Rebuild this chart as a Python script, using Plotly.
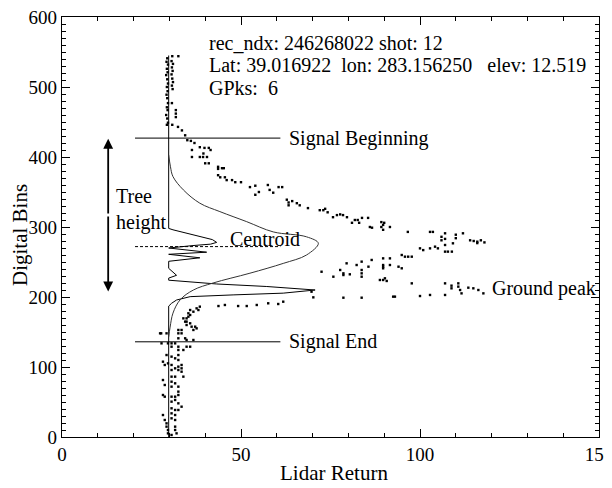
import plotly.graph_objects as go

# ---------------- data ----------------
# raw waveform samples (Lidar Return, Digital Bin)
dot_x = [
    # upper column
    29.4, 29.2, 29.6, 29.3, 29.5, 29.1, 29.4, 29.6, 29.3, 29.5, 29.2, 29.4, 29.6, 29.3, 29.5, 29.1, 29.4, 29.6, 29.3,
    30.8, 30.6, 31.0, 30.7, 30.9, 30.6, 30.8, 31.0, 30.7, 30.9, 30.7, 30.8,
    32.5, 31.8, 31.8, 31.8, 32.4, 33.5, 34.4, 35.0, 36.0, 37.0, 38.5, 39.8, 41.0, 36.3, 36.3, 38.5, 39.4,
    # upper diagonal branch
    41.5, 39.5, 40.5, 40.0, 41.0, 43.6, 43.6, 44.7, 45.2, 43.6, 44.2, 45.5, 46.0, 47.5, 48.4, 50.0,
    52.5, 54.0, 54.0, 55.0, 57.5, 58.0, 59.0, 60.5, 61.5, 62.8, 63.3, 64.3, 63.3, 65.6, 66.4, 68.7,
    72.0, 73.0, 73.5, 74.2, 75.7, 76.8, 77.7, 78.5, 79.6, 81.8, 82.6, 83.8, 85.5, 86.0, 89.2, 89.2,
    90.0, 91.6, 81.0, 83.0, 86.6, 89.7, 89.7, 96.6, 102.8, 103.6, 106.0, 107.0, 107.0, 106.0, 110.0,
    110.0, 112.0, 114.0, 115.0, 116.0, 117.0, 118.0, 116.0,
    # lower rising branch
    100.0, 100.9, 102.8, 104.2, 105.0, 107.0, 107.0, 107.8, 108.9, 109.2,
    94.9, 95.8, 96.7, 97.7, 89.7, 91.6, 89.7, 91.6, 89.7, 94.0, 94.9, 89.7,
    86.5, 85.6, 83.7, 83.7, 83.7, 83.7, 82.3, 79.5, 77.7, 78.6, 78.6, 80.4, 75.8, 72.5,
    # ground return row
    88.8, 89.7, 90.7, 90.2, 97.7, 78.6, 83.7, 92.5, 100.0, 102.8, 107.0,
    107.0, 108.8, 108.8, 110.7, 110.7, 111.2, 111.6, 113.5, 114.9, 116.3, 117.7,
    69.7, 70.2, 93.0,
    43.7, 45.5, 49.2, 51.6, 54.4, 57.6, 60.4, 61.8,
    # lower tail cluster
    38.5, 37.6, 38.1, 36.7, 35.8, 35.3, 35.3, 35.8, 34.8, 33.9, 34.4, 34.8, 35.8, 34.8, 36.2, 37.2,
    36.7, 37.6, 32.5, 32.5, 33.4, 33.4, 32.5, 34.4, 34.8, 36.7, 27.4, 27.7, 29.2,
    # lower column
    27.8, 29.6, 30.6, 31.6, 30.6, 32.5, 32.5, 33.9, 34.8, 35.8, 29.2, 30.6, 31.6, 32.5, 32.5,
    28.2, 28.7, 29.6, 30.6, 30.6, 31.6, 32.5, 33.4, 33.4, 32.5, 33.4, 30.6, 31.6, 33.9,
    28.2, 28.7, 30.6, 31.6, 30.6, 32.5, 32.5, 28.2, 28.7, 30.6, 31.6, 32.5, 30.6, 31.6, 32.5, 33.4,
    30.6, 31.6, 32.5, 30.6, 31.6, 28.2, 28.7, 29.2, 30.6, 31.6, 29.2, 29.6, 31.6, 31.6, 29.6, 30.6, 32.0,
]
dot_y = [
    541, 536, 532, 526, 521, 517, 511, 505, 500, 494, 489, 484, 477, 471, 467, 460, 455, 449, 446,
    544, 537, 533, 528, 523, 518, 512, 507, 502, 497, 477, 446,
    544, 467, 462, 457, 443, 438, 431, 424, 423, 420, 414, 413, 413, 410, 400, 400, 400,
    410, 405, 400, 391, 391, 386, 383, 384, 384, 374, 371, 371, 367, 367, 364, 364,
    357, 359, 346, 350, 360, 353, 349, 357, 357, 339, 335, 337, 331, 334, 331, 327,
    324, 324, 326, 321, 314, 317, 318, 317, 314, 310, 310, 313, 313, 300, 307, 300,
    306, 300, 306, 306, 299, 303, 296, 293, 293, 293, 286, 291, 283, 281, 289,
    284, 291, 281, 280, 279, 281, 278, 277,
    269.5, 267, 269.5, 271.9, 269.5, 274.3, 264.8, 264.8, 264.8, 276.7,
    260, 257.6, 257.6, 257.6, 255.2, 255.2, 245.7, 245.7, 241, 243.3, 241, 243.3,
    252.9, 243.3, 250.5, 238.6, 233.8, 229, 245.7, 248.1, 238.6, 233.8, 231.4, 232.4, 229, 236.1,
    224.3, 224.3, 222.9, 226.7, 219.5, 199, 199, 200.5, 201.4, 202.9, 202.9,
    219.5, 216.2, 212.4, 219.5, 214.8, 210, 205.2, 213.3, 212.4, 210, 205.2,
    207.6, 199.5, 200.5,
    187.1, 188.6, 187.1, 187.1, 188.6, 191, 190, 193.3,
    186.2, 183.8, 181.4, 179, 181.4, 176.7, 171.9, 174.3, 169.5, 169.5, 164.8, 164.8, 162.4, 160, 157.6, 157.6,
    152.9, 155.2, 152.9, 148.1, 152.9, 148.1, 141, 141, 138.6, 138.6, 148.1, 148.1, 148.1,
    133.8, 133.8, 133.8, 133.8, 129, 129, 124.3, 124.3, 129, 129, 117.1, 114.8, 112.4, 117.1, 110,
    107.6, 102.9, 105.2, 102.9, 95.7, 98.1, 100.5, 102.9, 98.1, 95.7, 93.3, 86.2, 86.2, 86.2,
    81.4, 74.3, 79, 76.7, 71.9, 71.9, 64.8, 60, 57.6, 57.6, 57.6, 60, 50.5, 52.9, 48.1, 43.3,
    41, 38.6, 38.6, 33.8, 31.4, 31.4, 24.3, 19.5, 26.7, 24.3, 14.8, 10, 14.8, 10, 5.2, 2.9, 5.2,
]

# broad fitted return (canopy) curve
broad_x = [29.8, 30.3, 31.0, 33.9, 38.5, 44.1, 51.6, 59.0, 68.3, 71.6, 68.3, 61.8, 52.5,
           42.2, 36.7, 33.0, 31.0, 30.2, 29.8]
broad_y = [403, 386, 372, 353, 334, 322, 307.6, 293, 286, 276.7, 260, 248, 234,
           220, 210, 196, 177, 157, 143]

# narrow peaks drawn on the baseline
peaks_x = [29.8, 29.8, 31.0, 34.0, 38.5, 42.0, 43.2, 41.5, 36.6, 31.0, 29.8,
           40.4, 29.8, 38.5, 29.8, 29.8, 32.0, 29.8,
           29.8, 43.2, 57.2, 70.7, 61.8, 47.8, 35.8, 32.0, 30.6, 29.8, 29.8]
peaks_y = [545, 298, 296, 292, 287, 282, 278, 275.5, 273.5, 271.5, 270,
           264, 261, 256, 251, 241, 231, 227,
           224, 218.6, 215, 210, 205.5, 203, 200.5, 195.7, 191, 187, 0]

# marker levels
signal_begin = 427
signal_end = 136
centroid = 272
line_x = [20.4, 61.0]
tree_top = 426
tree_bottom = 208
tree_x = 12.9

x_ticks = [0, 50, 100, 150]
y_ticks = [0, 100, 200, 300, 400, 500, 600]

header_lines = [
    "rec_ndx: 246268022 shot: 12",
    "Lat: 39.016922\u00a0\u00a0lon: 283.156250\u00a0\u00a0\u00a0elev: 12.519",
    "GPks:\u00a0\u00a06",
]
header_y = [563, 531, 499]
header_x = 40.6

FONT = "'Liberation Serif', 'Times New Roman', Times, serif"

fig = go.Figure()

fig.add_trace(go.Scatter(x=peaks_x, y=peaks_y, mode="lines",
                         line=dict(color="black", width=1), hoverinfo="skip"))
fig.add_trace(go.Scatter(x=broad_x, y=broad_y, mode="lines", line_shape="spline",
                         line=dict(color="#333333", width=1), hoverinfo="skip"))
fig.add_trace(go.Scatter(x=dot_x, y=dot_y, mode="markers",
                         marker=dict(symbol="square", size=2.4, color="black",
                                     line=dict(width=0))))

for lvl in (signal_begin, signal_end):
    fig.add_trace(go.Scatter(x=line_x, y=[lvl, lvl], mode="lines",
                             line=dict(color="black", width=1)))
fig.add_trace(go.Scatter(x=line_x, y=[centroid, centroid], mode="lines",
                         line=dict(color="black", width=1, dash="3px,2px")))

ann = []
txt = dict(font=dict(family=FONT, size=20, color="black"), showarrow=False,
           xanchor="left", yanchor="middle", xref="x", yref="y")
for s, yy in zip(header_lines, header_y):
    ann.append(dict(text=s, x=header_x, y=yy, **txt))
ann.append(dict(text="Signal Beginning", x=62.9, y=signal_begin, **txt))
ann.append(dict(text="Signal End", x=62.8, y=signal_end, **txt))
ann.append(dict(text="Centroid", x=46.4, y=282.5, **txt))
ann.append(dict(text="Ground peak", x=119.5, y=212, **txt))
ann.append(dict(text="Tree<br>height", x=14.6, y=325, align="left", **txt))

# axis titles
title_font = dict(family=FONT, size=21, color="black")
ann.append(dict(text="Lidar Return", xref="paper", yref="paper", x=0.507, y=0,
                xanchor="center", yanchor="middle", yshift=-36, showarrow=False,
                font=title_font))
ann.append(dict(text="Digital Bins", xref="paper", yref="paper", x=0, y=0.5,
                xanchor="center", yanchor="middle", xshift=-42, yshift=-8,
                textangle=-90, showarrow=False, font=title_font))

mid = (tree_top + tree_bottom) / 2
for end in (tree_top, tree_bottom):
    ann.append(dict(x=tree_x, y=end, ax=tree_x, ay=mid, xref="x", yref="y",
                    axref="x", ayref="y", text="", showarrow=True,
                    arrowhead=2, arrowsize=1.1, arrowwidth=1.8, arrowcolor="black"))

axis_common = dict(showline=True, linecolor="black", linewidth=1.3, mirror="allticks",
                   ticks="inside", ticklen=8, tickwidth=1, tickcolor="black",
                   showgrid=False, zeroline=False, automargin=False,
                   ticklabeloverflow="allow",
                   tickfont=dict(family=FONT, size=19, color="black"))

# the page body adds an 8px offset, so the figure is 8px smaller than the window
fig.update_layout(
    width=604, height=480,
    margin=dict(l=54, r=13, t=9, b=51),
    paper_bgcolor="white", plot_bgcolor="white",
    showlegend=False,
    annotations=ann,
    xaxis=dict(range=[0, 150], tickvals=x_ticks,
               minor=dict(dtick=10, ticklen=4, ticks="inside", tickcolor="black"),
               **axis_common),
    yaxis=dict(range=[0, 600], tickvals=y_ticks,
               minor=dict(dtick=10, ticklen=4, ticks="inside", tickcolor="black"),
               **axis_common),
)

fig.write_html("out.html")
